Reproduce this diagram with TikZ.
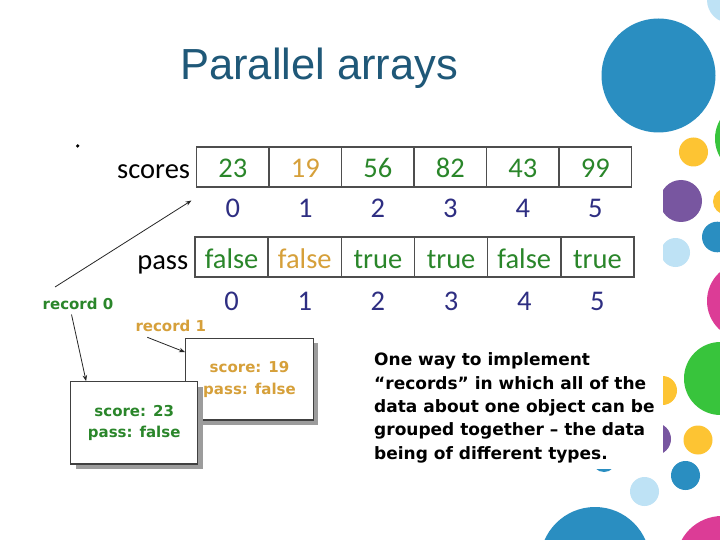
\documentclass[tikz,border=0pt]{standalone}
\usepackage{fontspec}
\setmainfont{Carlito}
\newfontfamily\titlefont{Liberation Sans}
\newfontfamily\boldsans{DejaVu Sans}[BoldFont={DejaVu Sans Bold}]
\usetikzlibrary{arrows.meta,shadows}
\definecolor{cblue}{HTML}{2A8EC1}
\definecolor{clight}{HTML}{BEE2F5}
\definecolor{cgreenc}{HTML}{38C43C}
\definecolor{cyellow}{HTML}{FDC433}
\definecolor{cpurple}{HTML}{7856A0}
\definecolor{cpink}{HTML}{DC3C96}
\definecolor{titleblue}{HTML}{1F5878}
\definecolor{tgreen}{HTML}{2A862A}
\definecolor{tgold}{HTML}{D6A03A}
\definecolor{tnavy}{HTML}{2E2E82}
\definecolor{bordergray}{HTML}{4E4E4E}
\definecolor{shadowgray}{HTML}{9C9C9C}
\tikzset{
  cell/.style={draw=bordergray, line width=1.6pt, inner sep=0pt,
    minimum height=40pt, text height=22pt, text depth=0pt,
    font=\fontsize{28.5}{30}\selectfont},
  idx/.style={anchor=base, inner sep=0pt, text=tnavy, font=\fontsize{28.5}{30}\selectfont},
  arrlabel/.style={anchor=base east, inner sep=0pt, text=black, font=\fontsize{28.5}{30}\selectfont},
  reclabel/.style={anchor=base west, inner sep=0pt, font=\boldsans\bfseries\fontsize{15}{18}\selectfont},
  recbox/.style={draw=black!75, line width=1.2pt, fill=white, inner sep=0pt, align=center,
    font=\boldsans\bfseries\fontsize{15}{21.7}\selectfont,
    drop shadow={shadow xshift=5pt, shadow yshift=-5pt, fill=shadowgray, opacity=1}},
  para/.style={anchor=base west, inner sep=0pt, text=black, font=\boldsans\bfseries\fontsize{17}{20}\selectfont},
  ptr/.style={draw=black!85, line width=0.8pt, -{Stealth[length=6pt,width=4.5pt]}}
}
\begin{document}
\begin{tikzpicture}[x=1pt,y=-1pt]
\useasboundingbox (0,0) rectangle (720,540);
\fill[white] (0,0) rectangle (720,540);
% decorative circles
\fill[clight] (730,0) circle[radius=23pt];
\fill[cblue] (658.5,75.5) circle[radius=57pt];
\fill[cgreenc] (751.7,138.5) circle[radius=36.7pt];
\fill[cyellow] (693.5,152) circle[radius=14.5pt];
\fill[cyellow] (726,201.5) circle[radius=13pt];
\fill[cpurple] (681,201) circle[radius=21pt];
\fill[cblue] (717.3,237) circle[radius=15.3pt];
\fill[clight] (675.5,252.5) circle[radius=14.5pt];
\fill[cpink] (745.8,301) circle[radius=38.8pt];
\fill[cgreenc] (720.5,378.5) circle[radius=36.5pt];
\fill[cyellow] (662.5,390.5) circle[radius=14.5pt];
\fill[cpurple] (655,439) circle[radius=16pt];
\fill[cyellow] (698,440) circle[radius=14.5pt];
\fill[cblue] (604,460) circle[radius=12pt];
\fill[cblue] (685.5,475.5) circle[radius=14.5pt];
\fill[clight] (644.5,491.5) circle[radius=14.5pt];
\fill[cblue] (595,562) circle[radius=55pt];
\fill[cpink] (722,562) circle[radius=46pt];
% pasted picture area
\fill[white] (40,135) rectangle (663,468.5);
% title
\node[anchor=base west, inner sep=0pt, text=titleblue, font=\titlefont\fontsize{43.5}{46}\selectfont] (title) at (180,80) {Parallel arrays};
% dot
\fill[black] (77.7,146) circle[radius=1.8pt];
% scores array
\foreach \v/\c [count=\i from 0] in {23/tgreen,19/tgold,56/tgreen,82/tgreen,43/tgreen,99/tgreen} {
  \node[cell, minimum width=72.5pt, text=\c] (s\i) at ({196.5+72.5*(\i+0.5)},167) {\v};
  \node[idx] (si\i) at ({196.5+72.5*(\i+0.5)},218) {\i};
}
% pass array
\foreach \v/\c [count=\i from 0] in {false/tgreen,false/tgold,true/tgreen,true/tgreen,false/tgreen,true/tgreen} {
  \node[cell, minimum width=73.17pt, text=\c] (p\i) at ({195+73.17*(\i+0.5)},257) {\v};
  \node[idx] (pi\i) at ({195+73.17*(\i+0.5)},310) {\i};
}
\node[arrlabel] (scoreslbl) at (190.3,178.3) {scores};
\node[arrlabel] (passlbl) at (188.5,269) {pass};
% record labels
\node[reclabel, text=tgreen] (r0) at (42.5,309.5) {record 0};
\node[reclabel, text=tgold] (r1) at (135.3,331.5) {record 1};
% record boxes
\node[recbox, text=tgold, minimum width=127.6pt, minimum height=81.7pt] (rec1) at (249.5,379.2) {score: 19\\pass: false};
\node[recbox, text=tgreen, minimum width=127pt, minimum height=82.3pt] (rec0) at (134.2,422.9) {score: 23\\pass: false};
% connectors
\coordinate (a1s) at (55,287);
\coordinate (a1e) at (191.5,200.5);
\draw[ptr] (a1s) -- (a1e);
\coordinate (a2s) at (71.5,314.5);
\draw[ptr] (a2s) -- ([xshift=16pt]rec0.north west);
\coordinate (a3s) at (147.3,337.3);
\draw[ptr] (a3s) -- ([yshift=-14.4pt]rec1.north west);
% explanation
\node[para] (t1) at (374,365.5) {One way to implement};
\node[para] (t2) at (374,389) {“records” in which all of the};
\node[para] (t3) at (374,412.4) {data about one object can be};
\node[para] (t4) at (374,435.9) {grouped together – the data};
\node[para] (t5) at (374,459.3) {being of different types.};
\end{tikzpicture}
\end{document}
